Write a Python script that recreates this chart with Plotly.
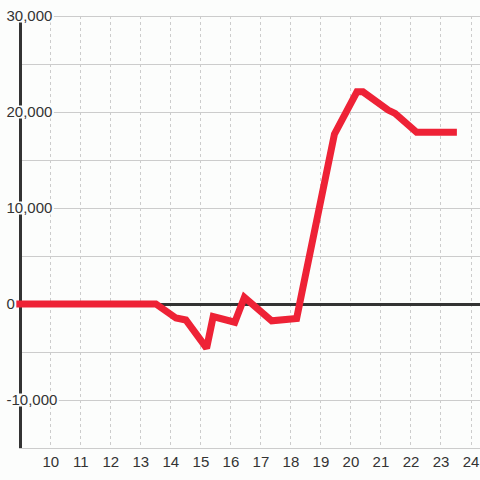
import plotly.graph_objects as go

hours = [8.5, 13.5, 14.17, 14.5, 15.19, 15.41, 16.13, 16.45, 17.36, 18.19, 18.37,
         19.45, 20.2, 20.4, 21.24, 21.47, 22.19, 23.53]
values = [0, 0, -1460, -1670, -4600, -1320, -1900, 700, -1750, -1500, 1250,
          17700, 22100, 22100, 20200, 19860, 17880, 17880]

grid_vals = [-15000, -10000, -5000, 0, 5000, 10000, 15000, 20000, 25000, 30000]
label_vals = [-10000, 0, 10000, 20000, 30000]
label_text = ["-10,000", "0", "10,000", "20,000", "30,000"]
x_tickvals = list(range(10, 25))
x_ticktext = [str(v) for v in x_tickvals]

bg = "#fcfdfc"
dark = "#333333"
grid = "#cccccc"
red = "#ee2236"
fsize = 15

W, H = 480, 480
T, B = 0, 32
axis_px = 22
plot_h = H - T - B          # 448
data_top_px = 16
y_lo, y_hi = -15000, 30000
px_per_unit_y = (plot_h - data_top_px) / (y_hi - y_lo)
label_hi = y_lo + plot_h / px_per_unit_y
x_range = [9.04, 24.3]
px_per_unit_x = (W - axis_px) / (x_range[1] - x_range[0])
x2_lo = x_range[0] - axis_px / px_per_unit_x
label_origin_px = 5.0

# label masks (background boxes behind y tick labels)
char_w = {"-": 0.333, ",": 0.278}
def text_w(s):
    return sum(char_w.get(c, 0.556) for c in s) * fsize

mask_x, mask_y = [], []
for v, t in zip(label_vals, label_text):
    right_px = label_origin_px + text_w(t) + 3
    mask_x += [x2_lo, x2_lo + right_px / px_per_unit_x, None]
    mask_y += [v, v, None]

fig = go.Figure()
fig.add_trace(go.Scatter(x=[], y=[], xaxis="x", yaxis="y", hoverinfo="skip"))
fig.add_trace(go.Scatter(
    x=hours, y=values, mode="lines",
    line=dict(color=red, width=7),
    hoverinfo="skip", xaxis="x2", yaxis="y2",
))
fig.add_trace(go.Scatter(
    x=mask_x, y=mask_y, mode="lines",
    line=dict(color=bg, width=13),
    hoverinfo="skip", xaxis="x2", yaxis="y2",
))

fig.update_layout(
    width=W, height=H,
    margin=dict(l=0, r=0, t=T, b=B, pad=0),
    paper_bgcolor=bg, plot_bgcolor="rgba(0,0,0,0)",
    showlegend=False,
    font=dict(family="Liberation Sans, Arial, sans-serif", size=fsize, color=dark),
    xaxis=dict(
        domain=[axis_px / W, 1], anchor="y", range=x_range, automargin=False,
        tickvals=x_tickvals, ticktext=x_ticktext,
        showgrid=True, gridcolor=grid, gridwidth=1, griddash="3px,3px",
        showline=True, linecolor=grid, linewidth=1,
        zeroline=False, ticks="",
        tickfont=dict(size=fsize, color=dark),
    ),
    yaxis=dict(
        domain=[0, (plot_h - data_top_px) / plot_h], anchor="x",
        range=[y_lo, y_hi], automargin=False,
        tickvals=grid_vals, showticklabels=False,
        showgrid=True, gridcolor=grid, gridwidth=1,
        zeroline=True, zerolinecolor=dark, zerolinewidth=3,
        showline=True, linecolor=dark, linewidth=3, ticks="",
    ),
    xaxis2=dict(
        domain=[0, 1], anchor="y2", range=[x2_lo, x_range[1]], automargin=False,
        visible=False, showgrid=False, zeroline=False,
    ),
    yaxis2=dict(
        domain=[0, 1], anchor="free", position=(label_origin_px - 2.5) / W,
        range=[y_lo, label_hi], automargin=False,
        tickvals=label_vals, ticktext=label_text,
        showgrid=False, zeroline=False, showline=False, ticks="",
        ticklabelposition="inside",
        tickfont=dict(size=fsize, color=dark),
        minor=dict(tickmode="array", tickvals=[y_hi], showgrid=True,
                   gridcolor=grid, gridwidth=1, ticks=""),
    ),
)

fig.write_html("out.html", config={"displayModeBar": False},
               post_script="document.body.style.margin='0px';")
